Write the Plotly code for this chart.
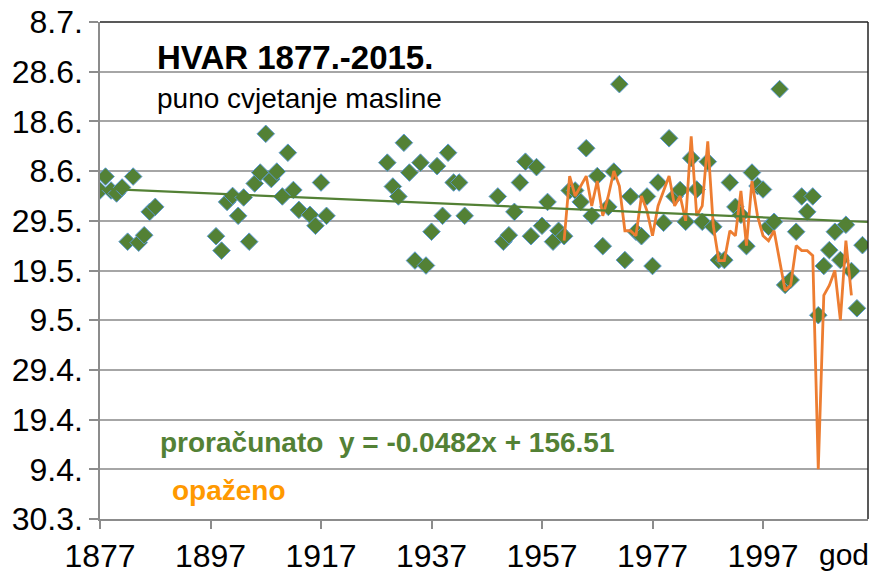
import plotly.graph_objects as go

# ---- data ----
calc_years = [1877, 1878, 1879, 1880, 1881, 1882, 1883, 1884, 1885, 1886, 1887,
              1898, 1899, 1900, 1901, 1902, 1903, 1904, 1905, 1906, 1907, 1908, 1909,
              1910, 1911, 1912, 1913, 1915, 1916, 1917, 1918,
              1929, 1930, 1931, 1932, 1933, 1934, 1935, 1936, 1937, 1938, 1939, 1940,
              1941, 1942, 1943,
              1949, 1950, 1951, 1952, 1953, 1954, 1955, 1956, 1957, 1958, 1959, 1960,
              1961, 1962, 1963, 1964, 1965, 1966, 1967, 1968, 1969, 1970, 1971, 1972,
              1973, 1974, 1975, 1976, 1977, 1978, 1979, 1980, 1981, 1982, 1983, 1984,
              1985, 1986, 1987, 1988, 1989, 1990, 1991, 1992, 1993, 1994, 1995, 1996,
              1997, 1998, 1999, 2000, 2001, 2002, 2003, 2004, 2005, 2006, 2007, 2008,
              2009, 2010, 2011, 2012, 2013, 2014, 2015]
calc_days = [156.1, 158.9, 156.1, 155.5, 156.7, 145.8, 158.9, 145.6, 147.1, 151.8, 152.8,
             146.9, 144.0, 153.8, 155.0, 151.0, 154.7, 145.8, 157.5, 159.7, 167.5, 158.4, 159.9,
             154.9, 163.7, 156.2, 152.2, 151.2, 149.0, 157.7, 151.0,
             161.7, 156.9, 154.9, 165.7, 159.7, 142.0, 161.7, 141.0, 147.8, 161.0, 151.0, 163.7,
             157.7, 157.7, 151.0,
             154.9, 145.8, 147.1, 151.8, 157.7, 161.9, 146.9, 160.8, 149.0, 153.8, 145.8, 148.0,
             146.9, 156.1, 156.1, 153.8, 164.6, 151.0, 159.0, 144.9, 152.8, 159.9, 177.5, 142.1,
             154.9, 147.8, 146.9, 154.9, 140.9, 157.7, 149.6, 166.6, 154.9, 156.2, 149.8, 162.6,
             156.3, 149.8, 161.9, 148.8, 142.1, 142.1, 157.7, 152.8, 151.2, 144.9, 159.7, 157.0,
             156.3, 148.8, 149.8, 176.5, 137.1, 138.1, 147.8, 154.9, 151.8, 154.9, 131.0, 140.9,
             144.1, 147.8, 142.1, 149.2, 139.9, 132.4, 145.1]

obs_years = list(range(1961, 2014))
obs_days = [146, 159, 155, 157, 159, 153, 158, 151, 155, 160, 157, 148,
            148, 147, 155, 152, 147, 153, 156, 159, 153, 155, 150, 167,
            151, 153, 166, 149, 142, 142, 148, 147, 156, 145, 158, 151,
            147, 146, 148, 142, 136, 137, 145, 144, 144, 143, 100, 135,
            137, 140, 130, 146, 135]

trend_slope = -0.0482
trend_intercept = 156.51
trend_years = [1877, 2016]

y_tickvals = [90, 100, 110, 120, 130, 140, 150, 160, 170, 180, 190]
y_ticktext = ["30.3.", "9.4.", "19.4.", "29.4.", "9.5.", "19.5.", "29.5.",
              "8.6.", "18.6.", "28.6.", "8.7."]
x_tickvals = [1877, 1897, 1917, 1937, 1957, 1977, 1997]

GREEN = "#538135"
ORANGE = "#ED7D31"
FONT = "Liberation Sans, Arial, sans-serif"

trend_vals = [trend_intercept + trend_slope * (yr - 1876) for yr in trend_years]

fig = go.Figure()
fig.add_trace(go.Scatter(
    x=calc_years, y=calc_days, mode="markers",
    marker=dict(symbol="diamond", size=13.5, color=GREEN,
                line=dict(color="#5B9BD5", width=1)),
    showlegend=False, hoverinfo="skip"))
fig.add_trace(go.Scatter(
    x=obs_years, y=obs_days, mode="lines",
    line=dict(color=ORANGE, width=2.8), showlegend=False, hoverinfo="skip"))
fig.add_trace(go.Scatter(
    x=trend_years, y=trend_vals, mode="lines",
    line=dict(color=GREEN, width=2.2), showlegend=False, hoverinfo="skip"))

fig.update_layout(
    width=870, height=565,
    margin=dict(l=92, r=10, t=14, b=54),
    paper_bgcolor="white", plot_bgcolor="white",
    font=dict(family=FONT, color="black", size=32),
    xaxis=dict(range=[1877, 2016], tickvals=x_tickvals,
               ticktext=[str(v) for v in x_tickvals],
               automargin=False, ticklabeloverflow="allow",
               showgrid=False, zeroline=False, showline=True,
               linecolor="#8C8C8C", linewidth=1.5,
               ticks="outside", ticklen=8, tickcolor="#8C8C8C", tickwidth=1.5,
               tickfont=dict(size=32, family=FONT, color="black")),
    yaxis=dict(range=[90, 190], tickvals=y_tickvals, ticktext=y_ticktext,
               automargin=False, ticklabeloverflow="allow",
               showgrid=True, gridcolor="#A6A6A6", gridwidth=1.5,
               zeroline=False, showline=True,
               linecolor="#8C8C8C", linewidth=1.5,
               ticks="outside", ticklen=9, tickcolor="#8C8C8C", tickwidth=1.5,
               tickfont=dict(size=32, family=FONT, color="black")),
    shapes=[
        dict(type="line", xref="paper", yref="paper", x0=0, x1=1, y0=1, y1=1,
             line=dict(color="#222222", width=1.5)),
        dict(type="line", xref="paper", yref="paper", x0=1, x1=1, y0=0, y1=1,
             line=dict(color="#222222", width=1.5)),
    ],
    annotations=[
        dict(text="<b>HVAR 1877.-2015.</b>", x=1886.9, y=182.8, xref="x", yref="y",
             xanchor="left", yanchor="middle", showarrow=False,
             font=dict(size=33, family=FONT, color="black")),
        dict(text="puno cvjetanje masline", x=1886.9, y=174.7, xref="x", yref="y",
             xanchor="left", yanchor="middle", showarrow=False,
             font=dict(size=28, family=FONT, color="black")),
        dict(text="<b>proračunato  y = -0.0482x + 156.51</b>", x=1887.5, y=105.3,
             xref="x", yref="y", xanchor="left", yanchor="middle", showarrow=False,
             font=dict(size=28, family=FONT, color=GREEN)),
        dict(text="<b>opaženo</b>", x=1889.6, y=95.8, xref="x", yref="y",
             xanchor="left", yanchor="middle", showarrow=False,
             font=dict(size=28, family=FONT, color="#FF9900")),
        dict(text="god", x=0.969, y=-0.072, xref="paper", yref="paper",
             xanchor="center", yanchor="middle", showarrow=False,
             font=dict(size=30, family=FONT, color="black")),
    ],
)

fig.write_html("out.html")
